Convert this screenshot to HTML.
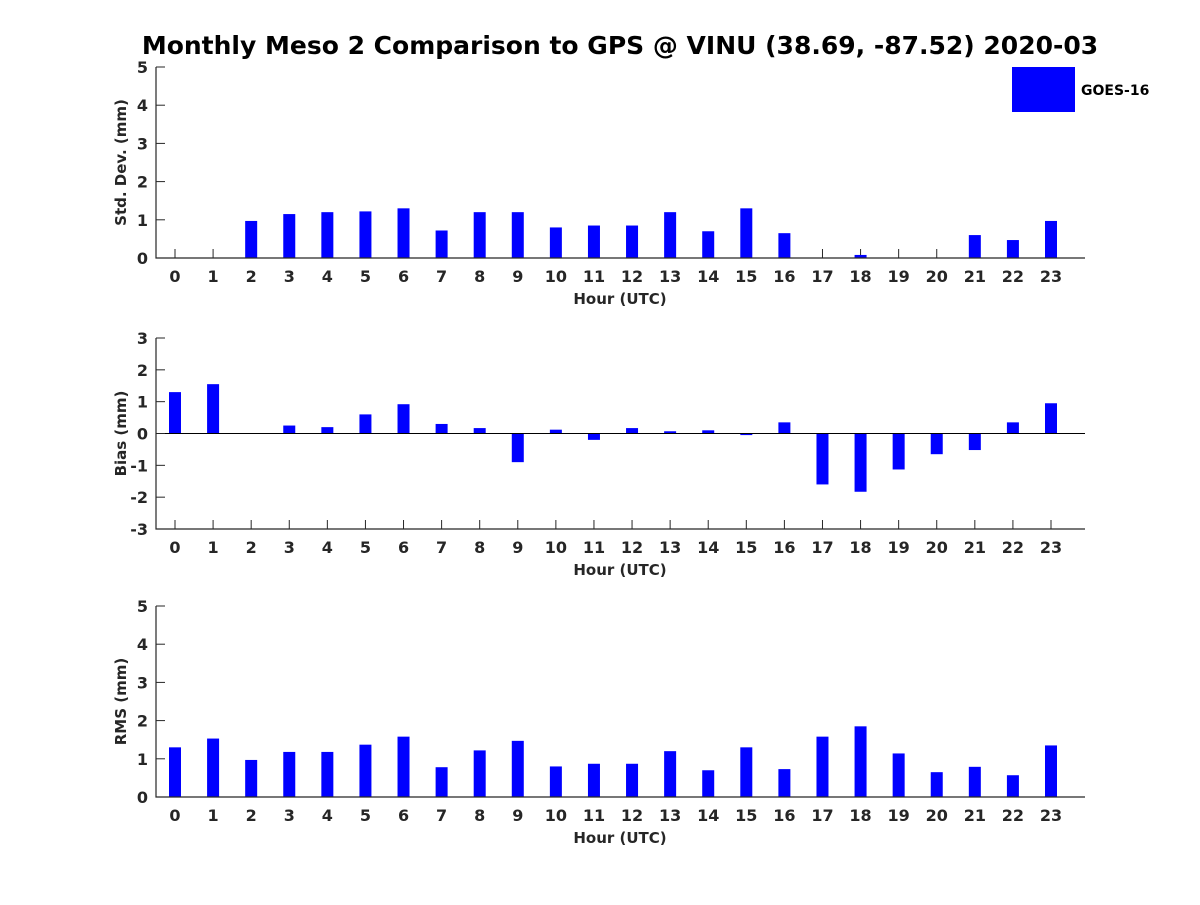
<!DOCTYPE html>
<html><head><meta charset="utf-8"><style>
body{margin:0;background:#fff}
svg text{font-family:"DejaVu Sans","Liberation Sans",sans-serif;font-weight:bold;fill:#262626}
</style></head><body>
<svg id="c" width="1200" height="900" xmlns="http://www.w3.org/2000/svg">
<text x="620" y="54" text-anchor="middle" font-size="25" style="fill:#000">Monthly Meso 2 Comparison to GPS @ VINU (38.69, -87.52) 2020-03</text>
<g>
<rect x="1012" y="67" width="63" height="45" fill="#0000ff"/>
<text x="1081" y="95" font-size="14" style="fill:#000">GOES-16</text>
</g>
</svg>
<script>
const hours=[0,1,2,3,4,5,6,7,8,9,10,11,12,13,14,15,16,17,18,19,20,21,22,23];
const stdVals=[0,0,0.97,1.15,1.2,1.22,1.3,0.72,1.2,1.2,0.8,0.85,0.85,1.2,0.7,1.3,0.65,0,0.08,0,0,0.6,0.47,0.97];
const biasVals=[1.3,1.55,0,0.25,0.2,0.6,0.92,0.3,0.17,-0.9,0.12,-0.2,0.17,0.07,0.1,-0.05,0.35,-1.6,-1.83,-1.13,-0.65,-0.52,0.35,0.95];
const rmsVals=[1.3,1.53,0.97,1.18,1.18,1.37,1.58,0.78,1.22,1.47,0.8,0.87,0.87,1.2,0.7,1.3,0.73,1.58,1.85,1.14,0.65,0.79,0.57,1.35];
const stdTicks=[0,1,2,3,4,5];
const biasTicks=[-3,-2,-1,0,1,2,3];
const rmsTicks=[0,1,2,3,4,5];
const svg=document.getElementById('c');
const NS='http://www.w3.org/2000/svg';
function mk(tag,attrs,parent){const e=document.createElementNS(NS,tag);for(const k in attrs)e.setAttribute(k,attrs[k]);parent.appendChild(e);return e;}
const X0=156,X1=1085;
function xs(h){return 175+h*(1051-175)/23;}
function panel(name,vals,ticks,yTop,yBot,ylabel){
  const g=mk('g',{},svg);
  
  
  const mn=ticks[0],mx=ticks[ticks.length-1];
  const ys=v=>yBot-(v-mn)*(yBot-yTop)/(mx-mn);
  hours.forEach(h=>{
    const x=xs(h);
    mk('line',{x1:x,x2:x,y1:yBot,y2:yBot-9,stroke:'#262626'},g);
    const tx=mk('text',{x:x,y:yBot+24,'text-anchor':'middle','font-size':16},g);
    tx.textContent=h;
    
  });
  vals.forEach((v,i)=>{
    const y0=ys(Math.max(0,mn)),y1=ys(v);
    const r=mk('rect',{x:xs(hours[i])-6,y:Math.min(y0,y1),width:12,height:Math.abs(y1-y0),fill:'#0000ff'},g);
    
    
  });
  if(mn<0){const z=mk('line',{x1:X0,x2:X1,y1:ys(0),y2:ys(0),stroke:'#000','stroke-width':1},g);
    }
  const ax=mk('path',{d:`M${X0} ${yTop}V${yBot}H${X1}`,stroke:'#262626',fill:'none','stroke-width':1.2},g);
  
  ticks.forEach(t=>{
    const y=ys(t);
    mk('line',{x1:X0,x2:X0+9,y1:y,y2:y,stroke:'#262626'},g);
    const tx=mk('text',{x:X0-8,y:y+6,'text-anchor':'end','font-size':16},g);
    tx.textContent=t;
    
  });
  const xl=mk('text',{x:620,y:yBot+46,'text-anchor':'middle','font-size':15},g);
  xl.textContent='Hour (UTC)';
  
  const cy=(yTop+yBot)/2;
  const yl=mk('text',{x:126,y:cy,'text-anchor':'middle','font-size':15,transform:`rotate(-90 126 ${cy})`},g);
  yl.textContent=ylabel;
  
}
panel('std-dev',stdVals,stdTicks,67,258,'Std. Dev. (mm)');
panel('bias',biasVals,biasTicks,338,529,'Bias (mm)');
panel('rms',rmsVals,rmsTicks,606,797,'RMS (mm)');
</script>
</body></html>
